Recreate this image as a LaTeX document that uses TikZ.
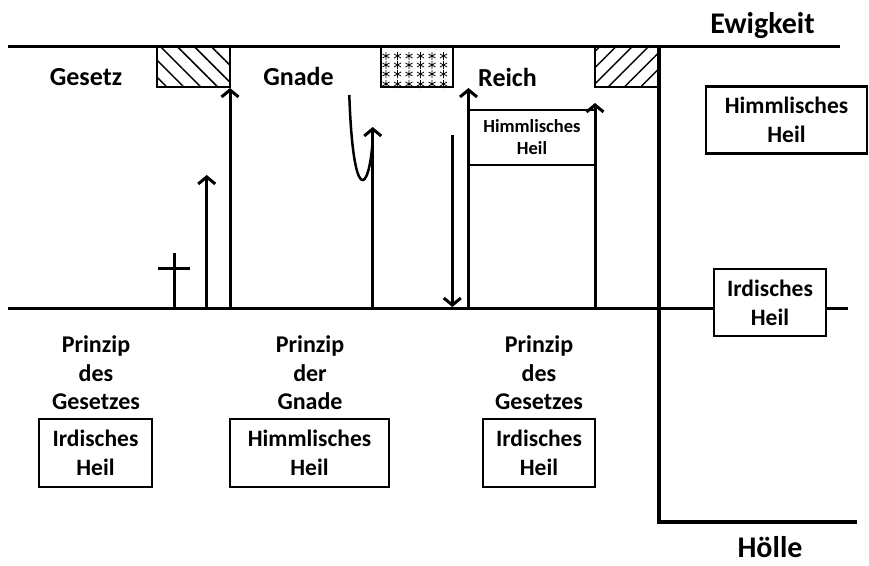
\documentclass[tikz,border=0pt]{standalone}
\usepackage{fontspec}
\setmainfont{Carlito}
\usetikzlibrary{arrows.meta,patterns.meta}
\begin{document}
\begin{tikzpicture}[x=1pt,y=-1pt,
  lbl/.style={font=\fontsize{24}{28.5}\selectfont\bfseries, align=center, inner sep=0pt},
  toplbl/.style={font=\fontsize{26}{30}\selectfont\bfseries, inner sep=0pt},
  big/.style={font=\fontsize{30}{34}\selectfont\bfseries, inner sep=0pt, anchor=base},
  small/.style={font=\fontsize{18.5}{22}\selectfont\bfseries, align=center, inner sep=0pt},
  heilbox/.style={draw, line width=2.5pt, fill=white, align=center, inner sep=0pt,
     font=\fontsize{23.5}{29}\selectfont\bfseries, minimum height=67pt},
  thick line/.style={line width=3pt},
  arr/.style={line width=3pt, -{Straight Barb[length=7pt,width=17pt,line width=3pt]}},
  ast/.pic={\draw[line width=0.8pt] (0,-4)--(0,4) (-3.5,-2)--(3.5,2) (-3.5,2)--(3.5,-2);}
]
\useasboundingbox[fill=white] (0,0) rectangle (869,565);

% coordinates
\coordinate (topL) at (8,46);
\coordinate (topR) at (840,46);
\coordinate (midL) at (8,308);
\coordinate (midR) at (848,308);
\coordinate (vT) at (659,46);
\coordinate (vB) at (659,522);
\coordinate (botR) at (857,522);

% hatched / starred boxes
\path[pattern={Lines[angle=-45,distance=12pt,line width=1.5pt]}] (157,46) rectangle (230,87);
\draw[line width=2.5pt] (157,46) -- (157,87) -- (230,87) -- (230,46);
\begin{scope}
\clip (381,46) rectangle (453,88);
\foreach \xx in {386,397.5,409,420.5,432,443.5}
  \foreach \yy in {56,65,74,84}
    \pic at (\xx,\yy) {ast};
\end{scope}
\draw[line width=2.5pt] (381,46) -- (381,87) -- (453,87) -- (453,46);
\path[pattern={Lines[angle=45,distance=11.5pt,line width=1.5pt]}] (595,46) rectangle (659,87);
\draw[line width=2.5pt] (595,46) -- (595,87) -- (659,87);

% main lines
\draw[thick line] (topL) -- (topR);
\draw[thick line] (midL) -- (midR);
\draw[line width=3.5pt] (vT) -- (vB) -- (botR);

% labels top
\node[big] (ewig) at (762.5,33) {Ewigkeit};
\node[big] (hoelle) at (770,557) {Hölle};
\node[toplbl] (gesetz) at (86,77) {Gesetz};
\node[toplbl] (gnade) at (298.5,76) {Gnade};
\node[toplbl] (reich) at (507.5,77) {Reich};

% cross
\coordinate (c1) at (174.3,253);
\coordinate (c2) at (174.3,308);
\coordinate (c3) at (158,268.3);
\coordinate (c4) at (190,268.3);
\draw[line width=3.5pt] (c1) -- (c2) (c3) -- (c4);

% arrows
\coordinate (a1s) at (206.7,308); \coordinate (a1e) at (206.7,175);
\coordinate (a2s) at (230,308);   \coordinate (a2e) at (230,88);
\coordinate (a3s) at (372.7,308); \coordinate (a3e) at (372.7,127);
\coordinate (a4s) at (452.3,135); \coordinate (a4e) at (452.3,307);
\coordinate (a5s) at (468.5,308); \coordinate (a5e) at (468.5,88);
\coordinate (a6s) at (595,308);   \coordinate (a6e) at (595,103);
\draw[arr] (a1s) -- (a1e);
\draw[arr] (a2s) -- (a2e);
\draw[arr] (a3s) -- (a3e);
\draw[arr] (a4s) -- (a4e);
\draw[arr] (a5s) -- (a5e);
\draw[arr] (a6s) -- (a6e);

% curve
\coordinate (k1) at (349.3,95);
\coordinate (k2) at (372.7,140);
\draw[line width=2.5pt] (k1) .. controls (353,205) and (369,195) .. (k2);

% inner box
\coordinate (ib1) at (468.5,110); \coordinate (ib2) at (595,110);
\coordinate (ib3) at (468.5,165); \coordinate (ib4) at (595,165);
\draw[line width=2.5pt] (ib1) -- (ib2) (ib3) -- (ib4);
\node[small] (innerheil) at (532,137.5) {Himmlisches\\Heil};

% right boxes
\node[heilbox, minimum width=161pt] (rhimm) at (786.5,120) {Himmlisches\\Heil};
\node[heilbox, minimum width=112pt] (rird) at (770,302.5) {Irdisches\\Heil};

% bottom
\node[lbl] (p1) at (96,373) {Prinzip\\des\\Gesetzes};
\node[lbl] (p2) at (310,373) {Prinzip\\der\\Gnade};
\node[lbl] (p3) at (539,373) {Prinzip\\des\\Gesetzes};
\node[heilbox, minimum width=113pt, minimum height=68pt] (b1) at (95.5,453) {Irdisches\\Heil};
\node[heilbox, minimum width=159pt, minimum height=68pt] (b2) at (309.5,453) {Himmlisches\\Heil};
\node[heilbox, minimum width=112pt, minimum height=68pt] (b3) at (539,453) {Irdisches\\Heil};
\end{tikzpicture}
\end{document}
